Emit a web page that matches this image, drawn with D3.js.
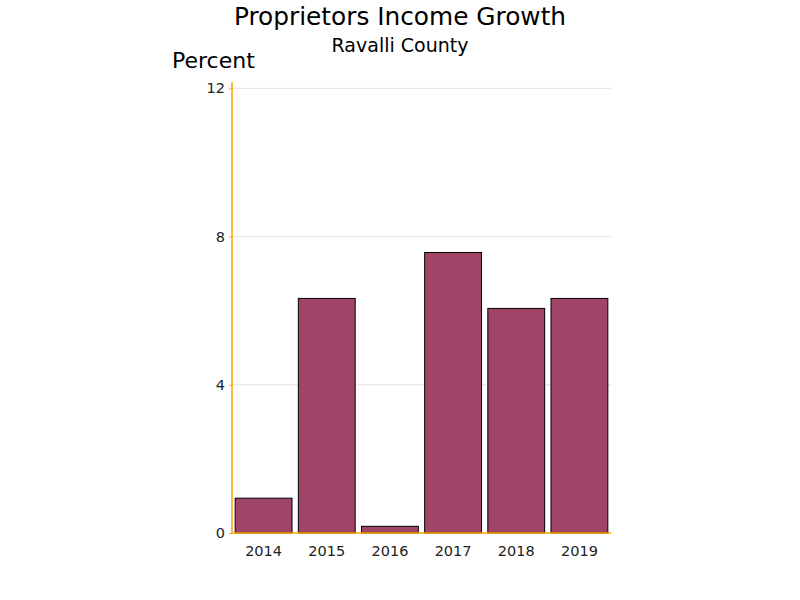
<!DOCTYPE html>
<html><head><meta charset="utf-8">
<script src="https://cdn.jsdelivr.net/npm/d3@7"></script>
<style>body{margin:0;background:#fff}</style>
</head><body>
<svg id="c" width="800" height="600"></svg>
<script>
const years = ["2014","2015","2016","2017","2018","2019"];
const growth = [0.94, 6.33, 0.18, 7.57, 6.06, 6.33];
const yTicks = [0, 4, 8, 12];

const svg = d3.select("#c");
const font = "'DejaVu Sans', sans-serif";
const L = 232, R = 611, T = 88.3, B = 533;
const x = d3.scaleBand().domain(years).range([L, R]).paddingInner(0.1).paddingOuter(0.05);
const y = d3.scaleLinear().domain([0, 12]).range([B, T]);

// gridlines
svg.append("g").selectAll("line").data(yTicks.filter(d => d > 0)).join("line")
  .attr("x1", L).attr("x2", R).attr("y1", d => y(d)).attr("y2", d => y(d))
  .attr("stroke", "#e3e3e3").attr("stroke-width", 1);

// bars
svg.append("g").selectAll("rect").data(years).join("rect")
  .attr("x", d => x(d)).attr("width", x.bandwidth())
  .attr("y", (d, i) => y(growth[i])).attr("height", (d, i) => B - y(growth[i]))
  .attr("fill", "#A0446A").attr("stroke", "#000").attr("stroke-width", 1);

// y axis
const ya = svg.append("g").attr("transform", `translate(${L},0)`)
  .call(d3.axisLeft(y).tickValues(yTicks).tickSize(3).tickPadding(4));
ya.select(".domain").attr("stroke", "#FFA500").attr("stroke-width", 1.5).attr("d", `M0,${B}V${T-6}`);
ya.selectAll(".tick line").attr("stroke", "#FFA500");
ya.selectAll(".tick text").attr("font-family", font).attr("font-size", 14.5).attr("fill", "#222");

// x axis
const xa = svg.append("g").attr("transform", `translate(0,${B})`)
  .call(d3.axisBottom(x).tickSize(0).tickPadding(13));
xa.select(".domain").attr("stroke", "#FFA500").attr("stroke-width", 1.5).attr("d", `M${L},0H${R}`);
xa.selectAll(".tick text").attr("font-family", font).attr("font-size", 14.5).attr("fill", "#222");

// titles
svg.append("text").attr("x", 400).attr("y", 25).attr("text-anchor", "middle")
  .attr("font-family", font).attr("font-size", 24.8).text("Proprietors Income Growth");
svg.append("text").attr("x", 400).attr("y", 52).attr("text-anchor", "middle")
  .attr("font-family", font).attr("font-size", 19).text("Ravalli County");
svg.append("text").attr("x", 172).attr("y", 67.5)
  .attr("font-family", font).attr("font-size", 22).text("Percent");
</script>
</body></html>
